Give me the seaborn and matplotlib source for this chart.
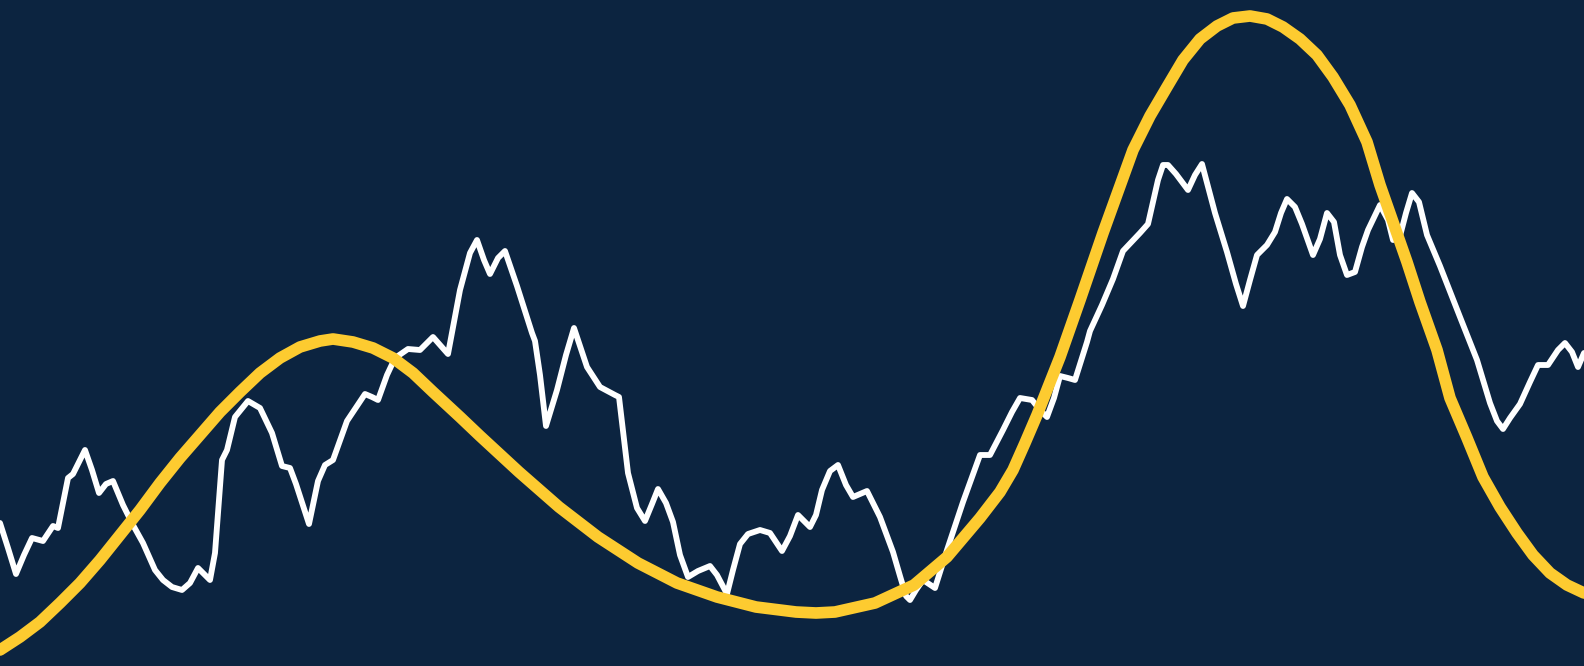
import numpy as np
import pandas as pd
import seaborn as sns
import matplotlib.pyplot as plt

# canvas size (pixels)
W, H = 1584, 666

# white series: x position and height (pixel rows from the top)
white_x = [0, 8, 16, 24, 32, 43, 53, 58, 68, 73, 85, 92, 99, 106, 113, 123, 133, 143, 155, 163,
           172, 182, 190, 198, 210, 215, 222, 227, 235, 248, 260, 272, 282, 290, 296, 309, 318,
           325, 333, 347, 365, 372, 378, 387, 395, 408, 420, 433, 448, 460, 470, 477, 484, 490,
           498, 505, 517, 532, 535, 540, 546, 557, 566, 574, 587, 600, 615, 619, 628, 637, 645,
           652, 658, 666, 673, 680, 688, 698, 710, 717, 727, 733, 740, 748, 760, 770, 782, 790,
           798, 810, 816, 822, 830, 838, 846, 853, 867, 880, 893, 900, 906, 910, 916, 923, 935,
           947, 963, 972, 980, 990, 1003, 1012, 1020, 1032, 1040, 1047, 1054, 1060, 1068, 1075,
           1087, 1090, 1102, 1113, 1123, 1140, 1148, 1158, 1163, 1168, 1176, 1188, 1195, 1202,
           1215, 1227, 1236, 1243, 1250, 1257, 1267, 1275, 1281, 1287, 1295, 1302, 1313, 1320,
           1327, 1334, 1340, 1347, 1355, 1362, 1368, 1380, 1388, 1393, 1400, 1406, 1412, 1419,
           1427, 1440, 1460, 1477, 1490, 1497, 1503, 1510, 1520, 1530, 1538, 1548, 1558, 1565,
           1572, 1578, 1584]
white_ypix = [523, 548, 574, 555, 538, 541, 526, 528, 478, 474, 450, 470, 493, 484, 481, 505, 525,
              543, 570, 580, 587, 590, 583, 568, 580, 553, 460, 450, 417, 401, 408, 433, 466, 468,
              484, 524, 481, 465, 460, 421, 394, 397, 400, 375, 358, 349, 350, 337, 354, 290, 253,
              240, 260, 274, 258, 251, 286, 333, 341, 375, 426, 390, 355, 328, 367, 387, 395, 397,
              473, 508, 521, 504, 489, 503, 522, 555, 577, 571, 566, 575, 594, 570, 544, 534, 530,
              533, 551, 536, 515, 527, 515, 490, 471, 465, 485, 497, 491, 517, 552, 576, 596, 600,
              590, 580, 588, 550, 502, 477, 455, 455, 430, 412, 398, 400, 410, 417, 398, 376, 378,
              380, 342, 331, 305, 279, 251, 233, 224, 180, 165, 165, 174, 190, 175, 164, 213, 252,
              284, 306, 280, 255, 245, 232, 213, 199, 207, 224, 255, 239, 213, 222, 255, 275, 272,
              247, 230, 205, 220, 240, 236, 213, 193, 202, 235, 266, 317, 360, 403, 421, 429, 418,
              404, 382, 365, 365, 350, 343, 352, 367, 353]

# yellow series: x position and height (pixel rows from the top)
yellow_x = [0, 20, 40, 60, 80, 100, 120, 140, 160, 180, 200, 220, 240, 260, 280, 300, 320, 333,
            353, 373, 393, 413, 433, 460, 480, 519, 559, 598, 638, 677, 717, 756, 796, 816, 835,
            875, 914, 947, 980, 1000, 1013, 1025, 1037, 1060, 1080, 1103, 1133, 1150, 1167, 1183,
            1200, 1217, 1233, 1250, 1267, 1283, 1300, 1317, 1333, 1350, 1367, 1380, 1393, 1407,
            1420, 1437, 1450, 1467, 1483, 1500, 1517, 1533, 1550, 1567, 1584]
yellow_ypix = [650, 637, 622, 603, 583, 560, 535, 510, 483, 458, 435, 412, 392, 373, 358, 347, 341,
               339, 342, 348, 358, 373, 392, 417, 436, 472, 507, 537, 563, 583, 597, 607, 612, 613,
               612, 603, 585, 557, 518, 492, 470, 443, 415, 357, 300, 233, 150, 116, 87, 60, 39,
               26, 18, 16, 19, 27, 39, 55, 77, 105, 142, 185, 222, 262, 302, 350, 398, 438, 477,
               507, 533, 555, 573, 585, 593]

white = pd.DataFrame({"x": white_x, "y": H - np.array(white_ypix)})
yellow = pd.DataFrame({"x": yellow_x, "y": H - np.array(yellow_ypix)})

bg = "#0c2440"
sns.set_style("white")

fig = plt.figure(figsize=(W / 100, H / 100), dpi=100, facecolor=bg)
ax = fig.add_axes([0, 0, 1, 1])
ax.set_facecolor(bg)

sns.lineplot(data=white, x="x", y="y", color="white", linewidth=4.2, estimator=None,
             sort=False, ax=ax, solid_joinstyle="round", solid_capstyle="round")
sns.lineplot(data=yellow, x="x", y="y", color="#fdcb30", linewidth=8.4, estimator=None,
             sort=False, ax=ax, solid_joinstyle="round", solid_capstyle="round")

ax.set_xlim(0, W)
ax.set_ylim(0, H)
ax.set_axis_off()

plt.savefig("out.png", dpi=100, facecolor=bg)
